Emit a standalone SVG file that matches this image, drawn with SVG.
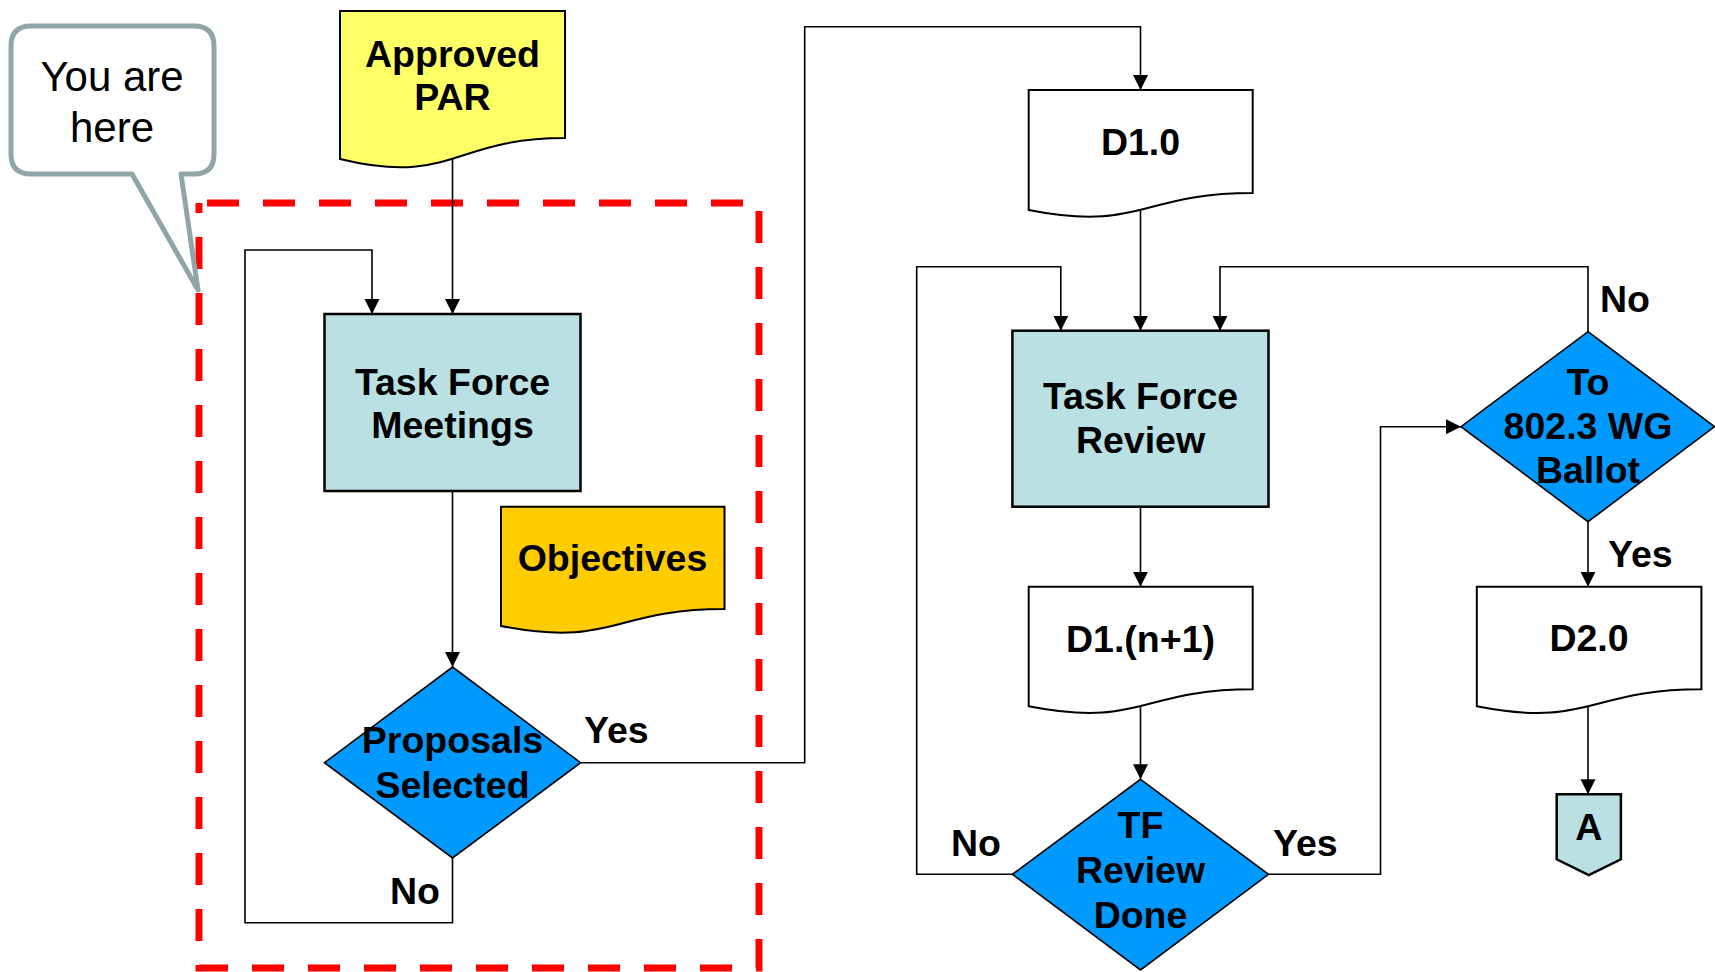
<svg xmlns="http://www.w3.org/2000/svg" width="1715" height="972" viewBox="0 0 1715 972">
<defs>
<marker id="arr" markerUnits="userSpaceOnUse" markerWidth="16" markerHeight="16" refX="15" refY="7.5" orient="auto">
<path d="M0,0 L15,7.5 L0,15 z" fill="#000"/>
</marker>
<style>
.t{font-family:"Liberation Sans",Arial,sans-serif;font-weight:bold;font-size:37.5px;fill:#000;text-anchor:middle}
.lbl{font-family:"Liberation Sans",Arial,sans-serif;font-weight:bold;font-size:37.5px;fill:#000}
.c{fill:none;stroke:#000;stroke-width:1.6}
.box{fill:#B9E0E3;stroke:#000;stroke-width:2.5}
.doc{stroke:#000;stroke-width:2}
.dia{fill:#0099FF;stroke:#000;stroke-width:1.6}
.co{font-family:"Liberation Sans",Arial,sans-serif;font-size:42px;fill:#000;text-anchor:middle}
</style>
</defs>
<rect width="1715" height="972" fill="#fff"/>
<path d="M199,203 H759 V968 H199 Z" fill="none" stroke="#FF0000" stroke-width="7" stroke-dasharray="32 24" stroke-dashoffset="48"/>
<g id="callout">
<path d="M33,26 H194 Q214,26 214,46 V154 Q214,174 194,174 H181 L198,290 L132,174 H31 Q11,174 11,154 V46 Q11,26 31,26 Z" fill="#fff" stroke="#8FA5A8" stroke-width="5" stroke-linejoin="round"/>
<text class="co" x="112" y="91">You are</text>
<text class="co" x="112" y="142">here</text>
</g>
<g id="connectors">
<path class="c" d="M452.5,159 V314" marker-end="url(#arr)"/>
<path class="c" d="M452.5,491 V667" marker-end="url(#arr)"/>
<path class="c" d="M452.5,858 V922.7 H245 V250 H372 V314" marker-end="url(#arr)"/>
<path class="c" d="M580.6,762.7 H804.7 V26.7 H1140.5 V90" marker-end="url(#arr)"/>
<path class="c" d="M1140.5,210 V330.7" marker-end="url(#arr)"/>
<path class="c" d="M1140.5,506.7 V586.7" marker-end="url(#arr)"/>
<path class="c" d="M1140.5,706 V779.3" marker-end="url(#arr)"/>
<path class="c" d="M1012.4,874.3 H916.7 V266.7 H1060.8 V330.7" marker-end="url(#arr)"/>
<path class="c" d="M1268.5,874.3 H1380.5 V426.7 H1461" marker-end="url(#arr)"/>
<path class="c" d="M1588,331.7 V266.7 H1220 V330.7" marker-end="url(#arr)"/>
<path class="c" d="M1588,521.7 V586.7" marker-end="url(#arr)"/>
<path class="c" d="M1588,706 V794.3" marker-end="url(#arr)"/>
<text class="lbl" x="584" y="743">Yes</text>
<text class="lbl" x="440" y="904" style="text-anchor:end">No</text>
<text class="lbl" x="1600" y="312">No</text>
<text class="lbl" x="1608" y="567">Yes</text>
<text class="lbl" x="1001" y="856" style="text-anchor:end">No</text>
<text class="lbl" x="1273" y="856">Yes</text>
</g>
<g id="approved-par">
<path class="doc" fill="#FFFF66" d="M340,11 H565 V138 C452.5,138 452.5,186.4 340,159 Z"/>
<text class="t" x="452.5" y="67">Approved</text>
<text class="t" x="452.5" y="110">PAR</text>
</g>
<g id="tf-meetings">
<rect class="box" x="324.5" y="314" width="256" height="177"/>
<text class="t" x="452.5" y="395">Task Force</text>
<text class="t" x="452.5" y="438">Meetings</text>
</g>
<g id="objectives">
<path class="doc" fill="#FFCC00" d="M501,506.7 H724.5 V609 C612.8,609 612.8,648 501,625.9 Z"/>
<text class="t" x="612.5" y="571">Objectives</text>
</g>
<g id="proposals-selected">
<path class="dia" d="M452.5,667 L580.6,762.7 L452.5,858 L324.5,762.7 Z"/>
<text class="t" x="452.5" y="753">Proposals</text>
<text class="t" x="452.5" y="798">Selected</text>
</g>
<g id="d1-0">
<path class="doc" fill="#fff" d="M1028.7,90 H1252.7 V193 C1140.7,193 1140.7,232.1 1028.7,210 Z"/>
<text class="t" x="1140.5" y="155">D1.0</text>
</g>
<g id="tf-review">
<rect class="box" x="1012.4" y="330.7" width="256.1" height="176"/>
<text class="t" x="1140.5" y="409">Task Force</text>
<text class="t" x="1140.5" y="453">Review</text>
</g>
<g id="d1-n1">
<path class="doc" fill="#fff" d="M1028.7,586.7 H1252.7 V689.3 C1140.7,689.3 1140.7,728.4 1028.7,706.3 Z"/>
<text class="t" x="1140.5" y="652">D1.(n+1)</text>
</g>
<g id="tf-review-done">
<path class="dia" d="M1140.5,779.3 L1268.5,874.3 L1140.5,970 L1012.4,874.3 Z"/>
<text class="t" x="1140.5" y="838">TF</text>
<text class="t" x="1140.5" y="883">Review</text>
<text class="t" x="1140.5" y="928">Done</text>
</g>
<g id="ballot">
<path class="dia" d="M1588,331.7 L1714.5,426.7 L1588,521.7 L1461,426.7 Z"/>
<text class="t" x="1588" y="395">To</text>
<text class="t" x="1588" y="439">802.3 WG</text>
<text class="t" x="1588" y="483">Ballot</text>
</g>
<g id="d2-0">
<path class="doc" fill="#fff" d="M1476.8,586.7 H1701.4 V689.3 C1589.1,689.3 1589.1,728.4 1476.8,706.3 Z"/>
<text class="t" x="1589" y="651">D2.0</text>
</g>
<g id="connector-a">
<path class="box" stroke-width="2" d="M1556.7,794.3 H1620.9 V859.3 L1588.8,875 L1556.7,859.3 Z"/>
<text class="t" x="1588.8" y="840">A</text>
</g>
</svg>
